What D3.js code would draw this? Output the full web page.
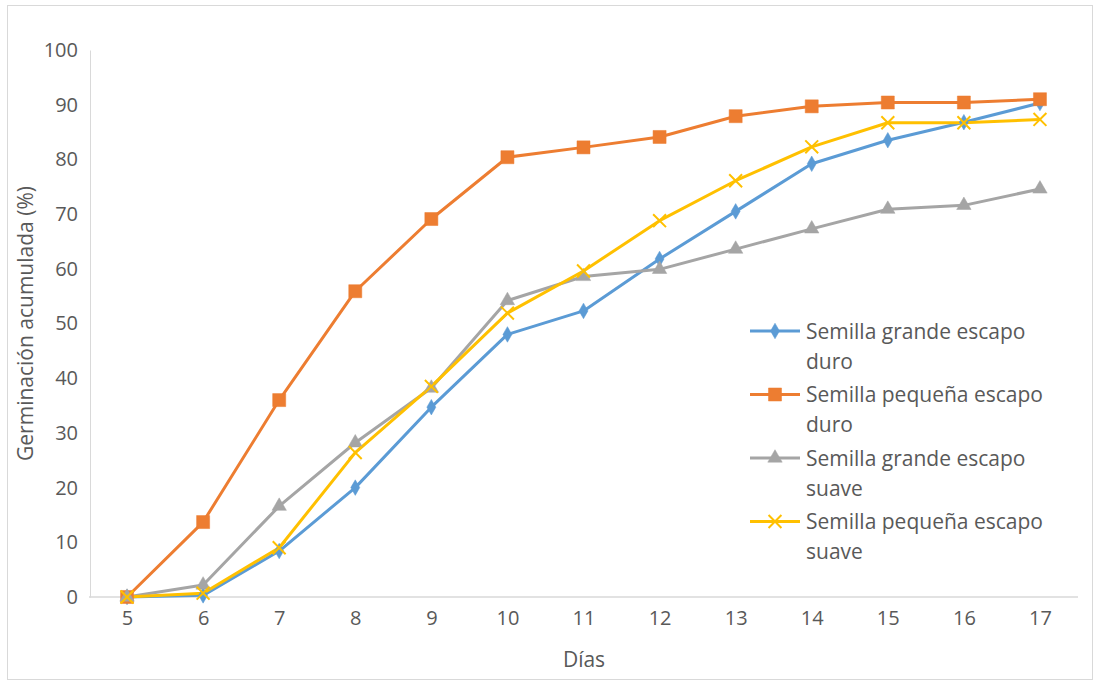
<!DOCTYPE html>
<html>
<head>
<meta charset="utf-8">
<script src="https://cdn.jsdelivr.net/npm/d3@7"></script>
<style>
  html, body { margin: 0; padding: 0; background: #fff; }
  svg { display: block; }
  text { font-family: "Open Sans", "Noto Sans", sans-serif; fill: #595959; }
</style>
</head>
<body>
<svg id="chart" width="1101" height="683"></svg>
<script>
// Days after sowing
const dias = [5, 6, 7, 8, 9, 10, 11, 12, 13, 14, 15, 16, 17];

// Cumulative germination (%) per treatment
const grandeDuro    = [0, 0.3, 8.4, 20.0, 34.7, 48.0, 52.3, 61.8, 70.5, 79.2, 83.5, 86.8, 90.3];
const pequenaDuro   = [0, 13.7, 36.0, 55.9, 69.1, 80.4, 82.2, 84.1, 87.9, 89.7, 90.4, 90.4, 91.0];
const grandeSuave   = [0, 2.2, 16.6, 28.2, 38.2, 54.2, 58.6, 59.9, 63.6, 67.3, 70.9, 71.6, 74.6];
const pequenaSuave  = [0, 0.7, 9.0, 26.4, 38.5, 51.9, 59.6, 68.8, 76.1, 82.3, 86.7, 86.7, 87.3];

const seriesNames = [
  ["Semilla grande escapo", "duro"],
  ["Semilla pequeña escapo", "duro"],
  ["Semilla grande escapo", "suave"],
  ["Semilla pequeña escapo", "suave"]
];
const yTicks = [0, 10, 20, 30, 40, 50, 60, 70, 80, 90, 100];

const series = [
  { values: grandeDuro,   name: seriesNames[0], color: "#5B9BD5", symbol: d3.symbolDiamond,  size: 70 },
  { values: pequenaDuro,  name: seriesNames[1], color: "#ED7D31", symbol: d3.symbolSquare,   size: 170 },
  { values: grandeSuave,  name: seriesNames[2], color: "#A5A5A5", symbol: d3.symbolTriangle, size: 90 },
  { values: pequenaSuave, name: seriesNames[3], color: "#FFC000", symbol: d3.symbolX,        size: 110 }
];

const svg = d3.select("#chart");

// Outer chart frame
svg.append("rect")
  .attr("x", 7.5).attr("y", 5.5).attr("width", 1085).attr("height", 674)
  .attr("fill", "none").attr("stroke", "#d9d9d9").attr("stroke-width", 1);

const plot = { left: 89, right: 1078, top: 50, bottom: 597 };

const x = d3.scalePoint()
  .domain(dias)
  .range([plot.left, plot.right])
  .padding(0.5);

const y = d3.scaleLinear()
  .domain([0, 100])
  .range([plot.bottom, plot.top]);

// Y axis
const yAxis = svg.append("g")
  .attr("transform", `translate(${plot.left + 1},0)`)
  .call(d3.axisLeft(y).tickValues(yTicks).tickSize(0).tickPadding(12));
yAxis.select(".domain").attr("stroke", "#d9d9d9");
yAxis.selectAll("text")
  .style("font-size", "20px")
  .style("fill", "#595959");

// X axis
const xAxis = svg.append("g")
  .attr("transform", `translate(0,${plot.bottom})`)
  .call(d3.axisBottom(x).tickSize(0).tickPadding(14));
xAxis.select(".domain")
  .attr("d", `M${plot.left},0H${plot.right}`)
  .attr("stroke", "#d9d9d9").attr("stroke-width", 1.5);
xAxis.selectAll("text")
  .style("font-family", "'Liberation Sans Narrow', 'Open Sans', sans-serif")
  .style("font-size", "20px")
  .style("fill", "#595959");

// Axis titles
svg.append("text")
  .attr("transform", `translate(33,${(plot.top + plot.bottom) / 2}) rotate(-90)`)
  .attr("text-anchor", "middle")
  .style("font-size", "21px")
  .text("Germinación acumulada (%)");

svg.append("text")
  .attr("x", 584).attr("y", 667)
  .attr("text-anchor", "middle")
  .style("font-size", "21px")
  .text("Días");

// Lines and markers
const line = d3.line()
  .x((d, i) => x(dias[i]))
  .y(d => y(d));

const marks = svg.append("g");
series.forEach(s => {
  marks.append("path")
    .datum(s.values)
    .attr("d", line)
    .attr("fill", "none")
    .attr("stroke", s.color)
    .attr("stroke-width", 3)
    .attr("stroke-linejoin", "round");
});
series.forEach(s => {
  const sym = d3.symbol().type(s.symbol).size(s.size);
  marks.selectAll(null)
    .data(s.values)
    .join("path")
    .attr("transform", (d, i) => `translate(${x(dias[i])},${y(d)})`)
    .attr("d", sym)
    .attr("fill", s.color)
    .attr("stroke", s.color)
    .attr("stroke-width", s.symbol === d3.symbolX ? 2 : 0.5);
});

// Legend
const legend = svg.append("g").attr("transform", "translate(750,331)");
series.forEach((s, i) => {
  const g = legend.append("g").attr("transform", `translate(0,${i * 63.5})`);
  g.append("line")
    .attr("x1", 0).attr("x2", 50).attr("y1", 0).attr("y2", 0)
    .attr("stroke", s.color).attr("stroke-width", 3);
  g.append("path")
    .attr("transform", "translate(25,0)")
    .attr("d", d3.symbol().type(s.symbol).size(s.size)())
    .attr("fill", s.color)
    .attr("stroke", s.color)
    .attr("stroke-width", s.symbol === d3.symbolX ? 2 : 0.5);
  const t = g.append("text")
    .attr("x", 56).attr("y", 7.5)
    .style("font-size", "21px");
  t.append("tspan").attr("x", 56).text(s.name[0]);
  t.append("tspan").attr("x", 56).attr("dy", 30).text(s.name[1]);
});
</script>
</body>
</html>
